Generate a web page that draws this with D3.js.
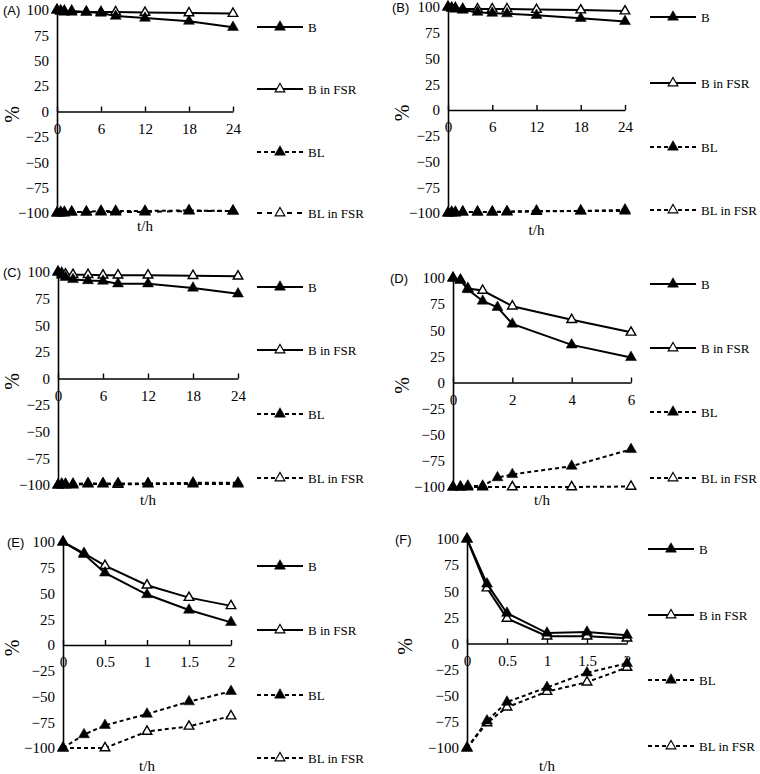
<!DOCTYPE html>
<html><head><meta charset="utf-8">
<script src="https://cdn.jsdelivr.net/npm/d3@7"></script>
<style>body{margin:0;background:#fff}svg{display:block}</style>
</head><body>
<svg id="c" width="760" height="774"></svg>
<script>
// ---------- DATA ----------
const panelLabels = ["(A)", "(B)", "(C)", "(D)", "(E)", "(F)"];
const seriesNames = ["B", "B in FSR", "BL", "BL in FSR"];
const yTicks = [100, 75, 50, 25, 0, -25, -50, -75, -100];
const xTicks24 = [0, 6, 12, 18, 24];
const xTicks6 = [0, 2, 4, 6];
const xTicks2 = [0, 0.5, 1, 1.5, 2];
const xTitle = "t/h";
const yTitle = "%";

const tLong = [0, 0.5, 1, 2, 4, 6, 8, 12, 18, 24];
const A_B   = [100, 99, 98, 98, 98, 97, 94, 92, 89, 83];
const A_BF  = [100, 99, 99, 99, 98, 98, 98, 97.5, 97, 96.5];
const A_BL  = [-100, -99, -99, -99, -99, -98, -98, -98, -97.5, -98];
const A_BLF = [-100, -100, -100, -99, -99, -99, -99, -99, -98, -98];

const B_B   = [100, 99, 98, 97, 95, 94, 93.5, 92, 89, 86];
const B_BF  = [100, 99, 99, 98, 98, 98, 98, 97.5, 97, 96];
const B_BL  = [-100, -99, -99, -99, -99, -99, -98.5, -98, -98, -97];
const B_BLF = [-100, -100, -100, -99, -99, -99, -99, -98.5, -98, -98];

const C_B   = [100, 97, 95, 93, 92, 91.5, 89, 89, 85, 79.5];
const C_BF  = [100, 99, 98, 97.5, 97.5, 97, 97, 97, 96.5, 96];
const C_BL  = [-100, -99, -99, -99, -98.5, -98.5, -98.5, -98.5, -98, -98];
const C_BLF = [-100, -100, -100, -100, -99, -99, -99.5, -99, -99, -99];

const tD    = [0, 0.25, 0.5, 1, 1.5, 2, 4, 6];
const tD2   = [0, 0.25, 0.5, 1, 2, 4, 6];
const D_B   = [100, 98, 89, 78, 72, 56, 36, 24];
const D_BF  = [100, 98, 90, 88, 73, 60, 48];
const D_BL  = [-100, -100, -99, -99, -91, -88, -80, -64];
const D_BLF = [-100, -100, -100, -100, -100, -100, -99.5];

const tE    = [0, 0.25, 0.5, 1, 1.5, 2];
const tE2   = [0, 0.5, 1, 1.5, 2];
const E_B   = [100, 88, 70, 49, 34, 22];
const E_BF  = [100, 89, 77, 58, 46, 38];
const E_BL  = [-100, -87, -78, -67, -55, -45];
const E_BLF = [-100, -100, -84, -79, -69];

const tF    = [0, 0.25, 0.5, 1, 1.5, 2];
const F_B   = [100, 57, 29, 10, 11, 8];
const F_BF  = [100, 53, 24, 7, 7, 5];
const F_BL  = [-100, -74, -56, -42, -28, -19];
const F_BLF = [-100, -76, -61, -46, -37, -23];

// ---------- LAYOUT ----------
const panels = [
  {lab: 0, xmax: 24, xt: xTicks24, x0: 57,  x1: 233, yT: 10,  yB: 213, labX: 3,   legX: 257, legY: [27, 89, 152, 213], pctX: 12,  tY: 226, blfDash: "5,5",
   s: [[tLong, A_B], [tLong, A_BF], [tLong, A_BL], [tLong, A_BLF]]},
  {lab: 1, xmax: 24, xt: xTicks24, x0: 448, x1: 625, yT: 7,   yB: 213, labX: 392, legX: 650, legY: [17, 83, 147, 210], pctX: 402, tY: 230, blfDash: "4,3",
   s: [[tLong, B_B], [tLong, B_BF], [tLong, B_BL], [tLong, B_BLF]]},
  {lab: 2, xmax: 24, xt: xTicks24, x0: 58,  x1: 238, yT: 272, yB: 485, labX: 3,   legX: 257, legY: [287, 350, 414, 478], pctX: 12, tY: 500, blfDash: "4,3",
   s: [[tLong, C_B], [tLong, C_BF], [tLong, C_BL], [tLong, C_BLF]]},
  {lab: 3, xmax: 6,  xt: xTicks6,  x0: 453, x1: 631, yT: 278, yB: 487, labX: 390, legX: 650, legY: [284, 348, 412, 478], pctX: 402, tY: 500, blfDash: "4,3",
   s: [[tD, D_B], [tD2, D_BF], [tD, D_BL], [tD2, D_BLF]]},
  {lab: 4, xmax: 2,  xt: xTicks2,  x0: 63,  x1: 231, yT: 542, yB: 748, labX: 7,   legX: 257, legY: [566, 630, 695, 758], pctX: 12, tY: 766, blfDash: "4,3",
   s: [[tE, E_B], [tE, E_BF], [tE, E_BL], [tE2, E_BLF]]},
  {lab: 5, xmax: 2,  xt: xTicks2,  x0: 467, x1: 627, yT: 539, yB: 748, labX: 395, legX: 648, legY: [549, 615, 680, 746], pctX: 405, tY: 766, blfDash: "4,3",
   s: [[tF, F_B], [tF, F_BF], [tF, F_BL], [tF, F_BLF]]}
];

const serif = "'Liberation Serif','Times New Roman',serif";
const sans = "'Liberation Sans',Arial,sans-serif";
const svg = d3.select("#c");
const filledSym = d3.symbol().type(d3.symbolTriangle).size(52);
const openSym = d3.symbol().type(d3.symbolTriangle).size(40);
const styles = [
  {dash: null, open: false},
  {dash: null, open: true},
  {dash: "4,3", open: false},
  {dash: "4,3", open: true}
];

panels.forEach(p => {
  const g = svg.append("g");
  const x = d3.scaleLinear().domain([0, p.xmax]).range([p.x0, p.x1]);
  const y = d3.scaleLinear().domain([-100, 100]).range([p.yB, p.yT]);

  // y axis
  const ya = g.append("g").attr("transform", `translate(${p.x0},0)`)
    .call(d3.axisLeft(y).tickValues(yTicks).tickSize(0).tickPadding(8).tickFormat(d3.format("d")));
  ya.select(".domain").attr("stroke", "#000").attr("stroke-width", 1.6);
  ya.selectAll("text").attr("font-family", serif).attr("font-size", 15).attr("fill", "#000");

  // x axis at y=0
  const xa = g.append("g").attr("transform", `translate(0,${y(0)})`)
    .call(d3.axisTop(x).tickValues(p.xt).tickSize(5).tickSizeOuter(0).tickFormat(d => d));
  xa.select(".domain").attr("stroke", "#000").attr("stroke-width", 1.6);
  xa.selectAll(".tick line").attr("stroke", "#000").attr("stroke-width", 1.4);
  xa.selectAll("text").attr("font-family", serif).attr("font-size", 15).attr("fill", "#000")
    .attr("y", 17).attr("dy", "0.35em");

  // titles
  g.append("text").attr("x", p.labX).attr("y", p.yT).attr("dy", "0.35em")
    .attr("font-family", sans).attr("font-size", 13).text(panelLabels[p.lab]);
  g.append("text").attr("transform", `translate(${p.pctX},${y(0) + 3}) rotate(-90)`)
    .attr("text-anchor", "middle").attr("dy", "0.35em")
    .attr("font-family", serif).attr("font-size", 20).text(yTitle);
  g.append("text").attr("x", (p.x0 + p.x1) / 2).attr("y", p.tY).attr("dy", "0.35em")
    .attr("text-anchor", "middle").attr("font-family", serif).attr("font-size", 15).text(xTitle);

  // series: open first, filled on top
  const order = [1, 3, 0, 2];
  order.forEach(i => {
    const [ts, vs] = p.s[i];
    const pts = ts.map((t, k) => [t, vs[k]]);
    const st = styles[i];
    const dash = i === 3 ? p.blfDash : st.dash;
    g.append("path").datum(pts)
      .attr("d", d3.line().x(d => x(d[0])).y(d => y(d[1])))
      .attr("fill", "none").attr("stroke", "#000").attr("stroke-width", 2)
      .attr("stroke-dasharray", dash);
    g.selectAll(null).data(pts).enter().append("path")
      .attr("transform", d => `translate(${x(d[0])},${y(d[1])})`)
      .attr("d", st.open ? openSym() : filledSym())
      .attr("fill", st.open ? "#fff" : "#000")
      .attr("stroke", "#000").attr("stroke-width", st.open ? 1.4 : 0.5);
  });

  // legend
  seriesNames.forEach((name, i) => {
    const st = styles[i];
    const dash = i === 3 ? p.blfDash : st.dash;
    const ly = p.legY[i];
    const lg = g.append("g");
    lg.append("line").attr("x1", p.legX).attr("x2", p.legX + 46).attr("y1", ly).attr("y2", ly)
      .attr("stroke", "#000").attr("stroke-width", 1.8).attr("stroke-dasharray", dash);
    lg.append("path").attr("transform", `translate(${p.legX + 23},${ly})`)
      .attr("d", st.open ? openSym() : filledSym())
      .attr("fill", st.open ? "#fff" : "#000")
      .attr("stroke", "#000").attr("stroke-width", st.open ? 1.2 : 0.5);
    lg.append("text").attr("x", p.legX + 51).attr("y", ly).attr("dy", "0.35em")
      .attr("font-family", serif).attr("font-size", 13).text(name);
  });
});
</script>
</body></html>
